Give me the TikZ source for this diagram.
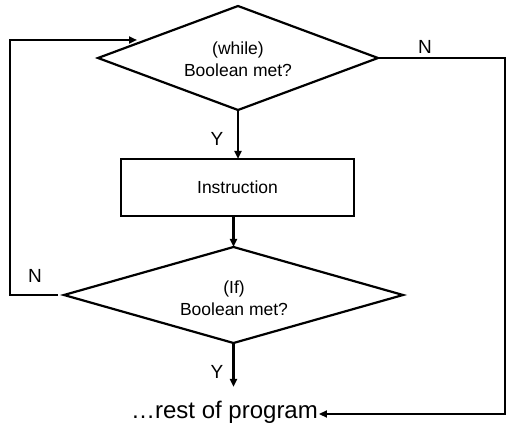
\documentclass[tikz,border=0pt]{standalone}
\usepackage{fontspec}
\setmainfont{Liberation Sans}
\usetikzlibrary{shapes.geometric,arrows.meta}
\begin{document}
\begin{tikzpicture}[x=1pt,y=1pt,
  line width=2.2pt,
  decision/.style={draw,diamond,inner sep=0pt,outer sep=0pt},
  box/.style={draw,rectangle,inner sep=0pt,outer sep=0pt},
  body/.style={font=\fontsize{17.5}{22}\selectfont,align=center},
  lbl/.style={font=\fontsize{19}{22}\selectfont,inner sep=0pt},
  arr/.style={-{Triangle[length=8pt,width=7pt]}}]
\useasboundingbox (0,0) rectangle (506,426);
\clip (0,0) rectangle (506,426);
% nodes
\node[decision,minimum width=280pt,minimum height=104pt] (d1) at (238,368) {};
\node[body] (t1) at (238,367) {(while)\\Boolean met?};
\node[box,minimum width=233pt,minimum height=57pt,body] (ins) at (237.5,238.5) {Instruction};
\node[decision,minimum width=339pt,minimum height=96pt] (d2) at (233.5,131) {};
\node[body] (t2) at (234,128) {(If)\\Boolean met?};
\node[font=\fontsize{24}{28}\selectfont,inner xsep=0pt,inner ysep=12.5pt,
      text height=17.5pt,text depth=9.5pt] (rest) at (224.5,12) {\dots rest of program};
\coordinate (rightx) at (505,0);
\coordinate (leftx) at (10,0);
\coordinate (loopin) at (137,386);
% labels
\node[lbl] (n1) at (425,379) {N};
\node[lbl] (n2) at (35,150) {N};
\node[lbl] (y1) at (217,287) {Y};
\node[lbl] (y2) at (217,54) {Y};
% connectors
\draw[arr] (d1.south) -- (d1.south |- ins.north);
\draw[arr] (ins.south -| d2.north) -- (d2.north);
\draw[arr] (d2.south) -- (d2.south |- rest.north);
\draw[arr] (d1.east) -- (d1.east -| rightx) |- (rest.east);
\draw[arr,shorten <=6pt] (d2.west) -- (d2.west -| leftx) |- (loopin);
\end{tikzpicture}
\end{document}
